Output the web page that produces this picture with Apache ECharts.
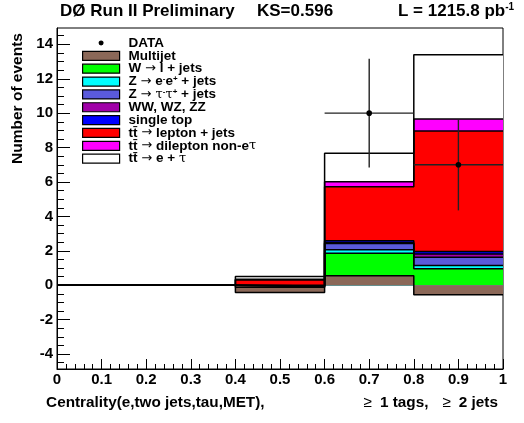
<!DOCTYPE html>
<html>
<head>
<meta charset="utf-8">
<script src="https://cdn.jsdelivr.net/npm/echarts@6/dist/echarts.min.js"></script>
<style>
  html, body { margin: 0; padding: 0; background: #fff; }
  #chart { width: 524px; height: 423px; }
</style>
</head>
<body>
<div id="chart"></div>
<script>
// bin edges of the histogram (Centrality)
const binEdges = [0, 0.2, 0.4, 0.6, 0.8, 1.0];

// per-bin contributions
const multijet  = [0, 0, -0.42, 0.55, -0.56];
const wJets     = [0, 0, 0.30, 1.31, 1.51];
const zEE       = [0, 0, 0.02, 0.20, 0.19];
const zTauTau   = [0, 0, 0.05, 0.36, 0.49];
const diboson   = [0, 0, 0.01, 0.05, 0.18];
const singleTop = [0, 0, 0.04, 0.12, 0.15];
const ttLepJets = [0, 0, 0.30, 3.14, 7.00];
const ttDilep   = [0, 0, 0.04, 0.29, 0.70];
const ttETau    = [0, 0, 0.17, 1.65, 3.74];

// data points: x, count, error bar ends
const dataX    = [0.7, 0.9];
const dataY    = [10, 7];
const dataXLo  = [0.6, 0.8];
const dataXHi  = [0.8, 1.0];
const dataYLo  = [6.84, 4.35];
const dataYHi  = [13.16, 9.65];

// axis ticks
const yMajorTicks = [-4, -2, 0, 2, 4, 6, 8, 10, 12, 14];
const yMinorTicks = [-4.5, -3.5, -3, -2.5, -1.5, -1, -0.5, 0.5, 1, 1.5, 2.5, 3, 3.5, 4.5, 5, 5.5,
                     6.5, 7, 7.5, 8.5, 9, 9.5, 10.5, 11, 11.5, 12.5, 13, 13.5, 14.5];

const components = [
    { name: 'Multijet',               values: multijet,  color: '#8b6858' },
    { name: 'W → l + jets',           values: wJets,     color: '#00ff00' },
    { name: 'Z → ee + jets',          values: zEE,       color: '#00ffff' },
    { name: 'Z → ττ + jets',          values: zTauTau,   color: '#5a5adc' },
    { name: 'WW, WZ, ZZ',             values: diboson,   color: '#a000a8' },
    { name: 'single top',             values: singleTop, color: '#0000ff' },
    { name: 'tt → lepton + jets',     values: ttLepJets, color: '#ff0000' },
    { name: 'tt → dilepton non-eτ',   values: ttDilep,   color: '#ff00ff' },
    { name: 'tt → e + τ',             values: ttETau,    color: '#ffffff' }
];

const legendText = {
    'DATA': '{g|}{b|DATA}',
    'Multijet': '{g|}{b|Multijet}',
    'W → l + jets': '{g|}{b|W }{a|→}{b| l + jets}',
    'Z → ee + jets': '{g|}{b|Z }{a|→}{b| e}{sup|-}{b|e}{sup|+}{b| + jets}',
    'Z → ττ + jets': '{g|}{b|Z }{a|→}{s| τ}{sup|-}{s|τ}{sup|+}{b| + jets}',
    'WW, WZ, ZZ': '{g|}{b|WW, WZ, ZZ}',
    'single top': '{g|}{b|single top}',
    'tt → lepton + jets': '{g|}{b|tt\u0304 }{a|→}{b| lepton + jets}',
    'tt → dilepton non-eτ': '{g|}{b|tt\u0304 }{a|→}{b| dilepton non-e}{s|τ}',
    'tt → e + τ': '{g|}{b|tt\u0304 }{a|→}{b| e + }{s|τ}'
};

const chart = echarts.init(document.getElementById('chart'));

// stacked cumulative step outlines, drawn from the top sum down so that
// lower components are painted over the higher ones
let running = [0, 0, 0, 0, 0];
const cumulative = components.map(c => {
    running = running.map((v, i) => v + c.values[i]);
    return running.slice();
});

const stackSeries = [];
for (let k = components.length - 1; k >= 0; k--) {
    const cum = cumulative[k];
    const pts = binEdges.map((x, i) => [x, cum[Math.min(i, cum.length - 1)]]);
    stackSeries.push({
        name: components[k].name,
        type: 'line',
        step: 'end',
        symbol: 'none',
        data: pts,
        itemStyle: { color: components[k].color },
        lineStyle: { color: '#000', width: 1.5 },
        areaStyle: { color: components[k].color, opacity: 1, origin: 0 },
        silent: true,
        animation: false
    });
}

const dataSeries = {
    name: 'DATA',
    type: 'custom',
    itemStyle: { color: '#000' },
    data: dataX.map((x, i) => [x, dataY[i], dataXLo[i], dataXHi[i], dataYLo[i], dataYHi[i]]),
    encode: { x: [0, 2, 3], y: [1, 4, 5] },
    z: 10,
    animation: false,
    renderItem: function (params, api) {
        const p = api.coord([api.value(0), api.value(1)]);
        const a = api.coord([api.value(2), api.value(1)]);
        const b = api.coord([api.value(3), api.value(1)]);
        const c = api.coord([api.value(0), api.value(4)]);
        const d = api.coord([api.value(0), api.value(5)]);
        return {
            type: 'group',
            children: [
                { type: 'line', shape: { x1: a[0], y1: a[1], x2: b[0], y2: b[1] }, style: { stroke: '#222', lineWidth: 1.4 } },
                { type: 'line', shape: { x1: c[0], y1: c[1], x2: d[0], y2: d[1] }, style: { stroke: '#222', lineWidth: 1.4 } },
                { type: 'circle', shape: { cx: p[0], cy: p[1], r: 2.8 }, style: { fill: '#000' } }
            ]
        };
    }
};

const boldFont = '"Liberation Sans", Arial, sans-serif';
const symFont = '"DejaVu Serif", "Liberation Serif", serif';
const arrowFont = '"DejaVu Sans", sans-serif';

const legendData = [{
    name: 'DATA',
    icon: 'path://M0,0L0.01,0M37,9L37.01,9M16,4.5a2.5,2.5 0 1,0 5,0a2.5,2.5 0 1,0 -5,0z',
    itemStyle: { color: '#000', borderWidth: 0 }
}].concat(components.map(c => ({
    name: c.name,
    icon: 'rect',
    itemStyle: { color: c.color, borderColor: '#000', borderWidth: 1.2 }
})));

const titleStyle = { fontFamily: boldFont, fontWeight: 'bold', fontSize: 17, color: '#000' };

const option = {
    backgroundColor: '#fff',
    animation: false,
    title: [
        { text: 'DØ Run II Preliminary', left: 60, top: 2.5, padding: 0, textStyle: titleStyle },
        { text: 'KS=0.596', left: 257, top: 2.5, padding: 0, textStyle: titleStyle },
        {
            text: '{b|L = 1215.8 pb}{sup|-1}', left: 398, top: 2.5, padding: 0,
            textStyle: {
                rich: {
                    b: titleStyle,
                    sup: { fontFamily: boldFont, fontWeight: 'bold', fontSize: 10, color: '#000', verticalAlign: 'top', padding: [0, 0, 7, 0] }
                }
            }
        }
    ],
    legend: {
        left: 82,
        top: 36,
        orient: 'vertical',
        itemWidth: 37,
        itemHeight: 9,
        itemGap: -1.15,
        padding: 0,
        selectedMode: false,
        data: legendData,
        formatter: name => legendText[name],
        textStyle: {
            color: '#000',
            rich: {
                g: { width: 4, height: 12.85, lineHeight: 12.85 },
                b: { fontFamily: boldFont, fontWeight: 'bold', fontSize: 13.5, color: '#000', lineHeight: 12.85 },
                a: { fontFamily: arrowFont, fontSize: 13, color: '#000', lineHeight: 12.85 },
                s: { fontFamily: symFont, fontSize: 13, color: '#000', lineHeight: 12.85 },
                sup: { fontFamily: boldFont, fontWeight: 'bold', fontSize: 8, color: '#000', verticalAlign: 'top', padding: [0, 0, 5, 0] }
            }
        }
    },
    grid: {
        left: 57, right: 21, top: 28, bottom: 54,
        show: true, borderColor: '#000', borderWidth: 1, backgroundColor: 'transparent'
    },
    xAxis: {
        type: 'value',
        min: 0, max: 1, interval: 0.1,
        axisLine: { onZero: false, lineStyle: { color: '#000', width: 1 } },
        axisTick: { inside: true, length: 10, lineStyle: { color: '#000' } },
        minorTick: { show: true, splitNumber: 5, length: 5, lineStyle: { color: '#000' } },
        splitLine: { show: false },
        axisLabel: {
            margin: 3, color: '#000', fontFamily: boldFont, fontWeight: 'bold', fontSize: 15,
            formatter: v => String(Math.round(v * 10) / 10)
        },
        name: '{b|Centrality(e,two jets,tau,MET),}{gap|}{s|≥}{sp|}{b|1 tags,}{sp2|}{s|≥}{sp|}{b|2 jets}',
        nameLocation: 'middle',
        nameGap: 26,
        nameTextStyle: {
            padding: [0, 16, 0, 0],
            rich: {
                b: { fontFamily: boldFont, fontWeight: 'bold', fontSize: 15.3, color: '#000' },
                s: { fontFamily: boldFont, fontSize: 15.3, color: '#000' },
                gap: { width: 99 },
                sp: { width: 8 },
                sp2: { width: 14 }
            }
        }
    },
    yAxis: [{
        type: 'value',
        min: -4.87, max: 14.95,
        axisLine: { show: true, onZero: false, lineStyle: { color: '#000', width: 1 } },
        axisTick: { inside: true, length: 13, customValues: yMajorTicks, lineStyle: { color: '#000' } },
        splitLine: { show: false },
        axisLabel: {
            margin: 4, color: '#000', fontFamily: boldFont, fontWeight: 'bold', fontSize: 15,
            customValues: yMajorTicks
        },
        name: 'Number of events',
        nameLocation: 'middle',
        nameRotate: 90,
        nameGap: 31,
        nameTextStyle: {
            fontFamily: boldFont, fontWeight: 'bold', fontSize: 15.5, color: '#000',
            padding: [0, 0, 0, 200]
        }
    }, {
        type: 'value',
        position: 'left',
        min: -4.87, max: 14.95,
        axisLine: { show: false },
        axisTick: { show: true, inside: true, length: 7, customValues: yMinorTicks, lineStyle: { color: '#000' } },
        axisLabel: { show: false },
        splitLine: { show: false }
    }],
    series: stackSeries.concat([dataSeries])
};

chart.setOption(option);
</script>
</body>
</html>
